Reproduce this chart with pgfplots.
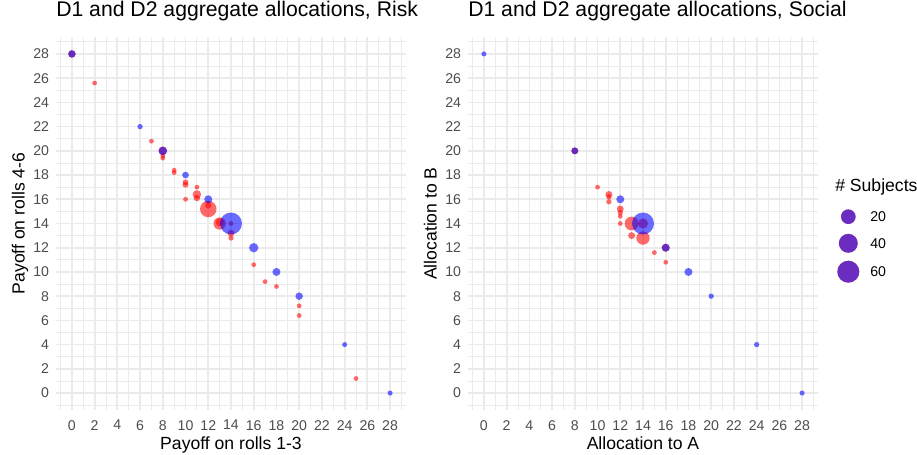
\documentclass[border=0pt]{standalone}
\usepackage{fontspec}
\setmainfont{Liberation Sans}
\usepackage{pgfplots}
\pgfplotsset{compat=1.18}

\definecolor{gridgray}{RGB}{235,235,235}
\definecolor{ticktext}{RGB}{77,77,77}
\definecolor{ptred}{RGB}{255,0,0}
\definecolor{ptblue}{RGB}{0,0,255}

\pgfplotsset{
  panel/.style={
    scale only axis, width=262.5pt, height=279.75pt,
    xmin=-1.4, xmax=29.4, ymin=-1.4, ymax=29.4,
    xtick={0,2,...,28}, ytick={0,2,...,28},
    minor xtick={-1,1,...,29}, minor ytick={-1,1,...,29},
    grid=both,
    major grid style={gridgray, line width=1.3pt},
    minor grid style={gridgray, line width=0.65pt},
    axis line style={draw=none}, tick style={draw=none},
    major tick length=0pt, minor tick length=0pt,
    /pgf/number format/assume math mode=true,
    tick label style={font=\fontsize{10.6}{12}\selectfont, text=ticktext},
    xticklabel style={anchor=north, inner sep=0pt, yshift=-7.5pt},
    yticklabel style={anchor=east, inner sep=0pt, xshift=-5pt},
    label style={font=\fontsize{13.2}{15}\selectfont},
    xlabel style={at={(axis description cs:0.5,-0.1072)}, anchor=base},
    ylabel style={at={(axis description cs:-0.09,0.5)}, anchor=base},
    title style={at={(axis description cs:0,1.0322)}, anchor=base west,
      inner sep=0pt, font=\fontsize{15.9}{18}\selectfont},
  },
  bubbles/.style={scatter, only marks, mark=*,
    scatter/use mapped color={draw=#1, fill=#1},
    mark options={fill opacity=0.58, draw opacity=0},
    visualization depends on={\thisrow{r}\as\rad},
    scatter/@pre marker code/.append style={/tikz/mark size=\rad}},
}

% x y r (radius in pt)
\pgfplotstableread{
x  y    r
0  28   2.8
2  25.6 1.8
7  20.8 1.8
8  20   3.2
8  19.6 1.8
8  19.4 1.8
9  18.4 1.8
9  18.2 1.8
10 17.4 2.2
10 17.2 2.2
10 16   1.8
11 17   1.8
11 16.4 3.2
11 16.1 2.4
12 15.5 2.4
12 15.2 6.2
13 14.1 3.0
13 14   4.6
14 14   1.8
14 13.2 2.6
14 12.8 2.0
16 10.6 1.8
17 9.2  1.8
18 8.8  1.8
20 7.2  1.8
20 6.4  1.8
25 1.2  1.8
}\riskred
\pgfplotstableread{
x  y  r
0  28 2.8
6  22 2.0
8  20 3.2
10 18 2.5
12 16 3.0
14 14 8.25
16 12 3.5
18 10 3.0
20 8  2.8
24 4  1.9
28 0  1.9
}\riskblue
\pgfplotstableread{
x  y    r
8  20   2.6
10 17   1.8
11 16.4 2.6
11 16.2 2.0
11 15.8 2.0
12 15.2 2.6
12 14.9 2.0
12 14.6 1.8
12 14   1.8
13 14   5.2
13 13   2.6
14 14   3.8
14 12.8 5.0
15 11.6 1.8
16 12   3.0
16 10.8 1.8
}\socialred
\pgfplotstableread{
x  y  r
0  28 1.9
8  20 2.6
12 16 3.0
14 14 8.25
16 12 3.0
18 10 3.0
20 8  2.0
24 4  2.0
28 0  1.9
}\socialblue

\begin{document}
\begin{tikzpicture}
\path[use as bounding box] (0,0) rectangle (687.75pt,-340.5pt);

\begin{axis}[panel, at={(42pt,-307.5pt)}, anchor=south west,
  title={D1 and D2 aggregate allocations, Risk},
  xlabel={Payoff on rolls 1-3}, ylabel={Payoff on rolls 4-6}]
\addplot[bubbles=ptred] table[x=x, y=y] {\riskred};
\addplot[bubbles=ptblue] table[x=x, y=y] {\riskblue};
\end{axis}

\begin{axis}[panel, at={(351pt,-307.5pt)}, anchor=south west,
  title={D1 and D2 aggregate allocations, Social},
  xlabel={Allocation to A}, ylabel={Allocation to B}]
\addplot[bubbles=ptred] table[x=x, y=y] {\socialred};
\addplot[bubbles=ptblue] table[x=x, y=y] {\socialblue};
\end{axis}

% size legend, in pixel units of the whole picture
\begin{axis}[at={(0pt,0pt)}, anchor=north west, scale only axis,
  width=687.75pt, height=340.5pt, xmin=0, xmax=917, ymin=-454, ymax=0,
  hide axis, clip=false]
\addplot[bubbles=ptred] table[x=x, y=y] {
x     y      r
848.3 -216.7 5.5
848.3 -243.3 7.1
848.3 -271.7 8.25
};
\addplot[bubbles=ptblue] table[x=x, y=y] {
x     y      r
848.3 -216.7 5.5
848.3 -243.3 7.1
848.3 -271.7 8.25
};
\node[anchor=base west, inner sep=0pt, font=\fontsize{13.2}{15}\selectfont]
  at (axis cs:835,-191.5) {\# Subjects};
\node[anchor=west, inner sep=0pt, font=\fontsize{10.6}{12}\selectfont]
  at (axis cs:870,-216.7) {20};
\node[anchor=west, inner sep=0pt, font=\fontsize{10.6}{12}\selectfont]
  at (axis cs:870,-243.3) {40};
\node[anchor=west, inner sep=0pt, font=\fontsize{10.6}{12}\selectfont]
  at (axis cs:870,-271.7) {60};
\end{axis}
\end{tikzpicture}
\end{document}
